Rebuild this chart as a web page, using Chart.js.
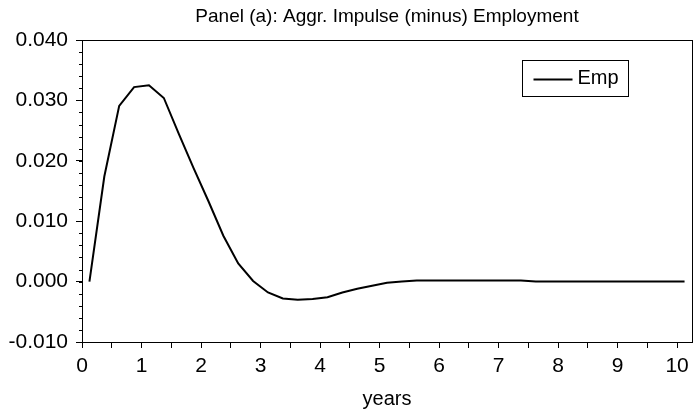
<!DOCTYPE html>
<html lang="en">
	<head>
		<meta http-equiv="content-type" content="text/html; charset=UTF-8">
		<script src="https://cdn.jsdelivr.net/npm/chart.js@4.4.1/dist/chart.umd.min.js"></script>
		<title>Panel (a): Aggr. Impulse (minus) Employment</title>
		<style>
			html, body { margin: 0; padding: 0; background: #ffffff; }
			#chart-box { position: relative; width: 696px; height: 415px; }
		</style>
	</head>
	<body>
		<div id="chart-box">
			<canvas id="line-chart"></canvas>
		</div>
		<script>
			// quarterly points, plotted at the middle of each quarter
			var years = [0.125, 0.375, 0.625, 0.875, 1.125, 1.375, 1.625, 1.875, 2.125, 2.375,
				2.625, 2.875, 3.125, 3.375, 3.625, 3.875, 4.125, 4.375, 4.625, 4.875,
				5.125, 5.375, 5.625, 5.875, 6.125, 6.375, 6.625, 6.875, 7.125, 7.375,
				7.625, 7.875, 8.125, 8.375, 8.625, 8.875, 9.125, 9.375, 9.625, 9.875, 10.125];
			var empValues = [0.0000, 0.0174, 0.0291, 0.0322, 0.0325, 0.0304, 0.0245, 0.0188, 0.0133, 0.0076,
				0.0030, 0.0001, -0.0018, -0.0028, -0.0030, -0.0029, -0.0026, -0.0018, -0.0012, -0.0007,
				-0.0002, 0.0000, 0.0002, 0.0002, 0.0002, 0.0002, 0.0002, 0.0002, 0.0002, 0.0002,
				0.0000, 0.0000, 0.0000, 0.0000, 0.0000, 0.0000, 0.0000, 0.0000, 0.0000, 0.0000, 0.0000];
			var seriesName = "Emp";
			var chartTitle = "Panel (a): Aggr. Impulse (minus) Employment";
			var yTicks = [-0.010, 0.000, 0.010, 0.020, 0.030, 0.040];
			var xTicks = [0, 1, 2, 3, 4, 5, 6, 7, 8, 9, 10];

			var FONT = "'Liberation Sans', Arial, Helvetica, sans-serif";

			// title over the plot, box round the plot, small y ticks and the boxed legend
			var framePlugin = {
				id: "frame",
				afterDatasetsDraw: function(chart) {
					var ctx = chart.ctx;
					var a = chart.chartArea;
					var y = chart.scales.y;
					ctx.save();
					ctx.fillStyle = "#000000";
					ctx.font = "19px " + FONT;
					ctx.textAlign = "center";
					ctx.textBaseline = "middle";
					ctx.fillText(chartTitle, (a.left + a.right) / 2, 17);

					ctx.strokeStyle = "#000000";
					ctx.lineWidth = 1;
					ctx.strokeRect(Math.round(a.left) + 0.5, Math.round(a.top) + 0.5,
						Math.round(a.right - a.left), Math.round(a.bottom - a.top));

					// minor ticks every 0.002
					ctx.beginPath();
					for (var k = 0; k <= 25; k++) {
						var v = y.min + k * 0.002;
						var py = Math.round(y.getPixelForValue(v)) + 0.5;
						ctx.moveTo(a.left - 3, py);
						ctx.lineTo(a.left, py);
					}
					ctx.stroke();

					// legend
					var ds = chart.data.datasets[0];
					var bx = Math.round(a.right) - 169.5, by = Math.round(a.top) + 20.5;
					ctx.strokeRect(bx, by, 106, 36);
					ctx.beginPath();
					ctx.lineWidth = ds.borderWidth;
					ctx.strokeStyle = ds.borderColor;
					ctx.moveTo(bx + 11, by + 19);
					ctx.lineTo(bx + 50, by + 19);
					ctx.stroke();
					ctx.fillStyle = "#000000";
					ctx.font = "20px " + FONT;
					ctx.textAlign = "left";
					ctx.fillText(ds.label, bx + 55, by + 18);
					ctx.restore();
				}
			};

			new Chart(document.getElementById("line-chart"), {
				type: "line",
				data: {
					datasets: [{
						label: seriesName,
						data: years.map(function(t, i) { return { x: t, y: empValues[i] }; }),
						borderColor: "#000000",
						borderWidth: 2,
						pointRadius: 0,
						tension: 0,
						fill: false
					}]
				},
				options: {
					responsive: true,
					maintainAspectRatio: false,
					animation: false,
					layout: { padding: { left: 0, right: 4, top: 40, bottom: 0 } },
					plugins: {
						legend: { display: false },
						tooltip: { enabled: false },
						title: { display: false }
					},
					scales: {
						x: {
							type: "linear",
							min: 0,
							max: 10.25,
							border: { display: false },
							grid: { display: true, drawOnChartArea: false, drawTicks: true, tickLength: 6, color: "#000000" },
							ticks: {
								stepSize: 0.5,
								includeBounds: false,
								autoSkip: false,
								maxRotation: 0,
								padding: 6,
								color: "#000000",
								font: { family: FONT, size: 21 },
								callback: function(v) { return xTicks.indexOf(v) >= 0 ? String(v) : ""; }
							},
							title: {
								display: true,
								text: "years",
								color: "#000000",
								font: { family: FONT, size: 20 },
								padding: { top: 8, bottom: 4 }
							},
							afterFit: function(scale) { scale.height = 73; }
						},
						y: {
							min: yTicks[0],
							max: yTicks[yTicks.length - 1],
							border: { display: false },
							grid: { display: true, drawOnChartArea: false, drawTicks: true, tickLength: 6, color: "#000000" },
							ticks: {
								stepSize: 0.01,
								padding: 8,
								color: "#000000",
								font: { family: FONT, size: 21 },
								callback: function(v) { return v.toFixed(3); }
							},
							afterFit: function(scale) { scale.width = 82; }
						}
					}
				},
				plugins: [framePlugin]
			});
		</script>
	</body>
</html>
